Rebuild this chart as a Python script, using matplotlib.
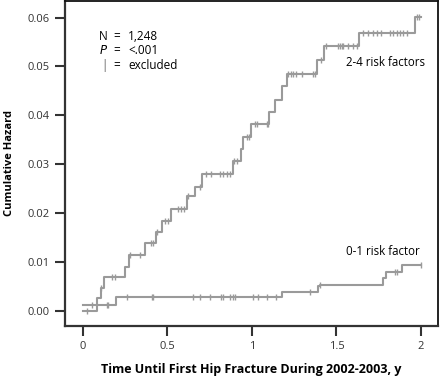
import numpy as np
import matplotlib
matplotlib.use('Agg')
import matplotlib.pyplot as plt

plt.rcParams['font.family'] = ['Open Sans', 'DejaVu Sans']

# 2-4 risk factors: step times and cumulative hazard after each step
t_hi = [0.0, 0.085, 0.105, 0.124, 0.249, 0.274, 0.369, 0.432, 0.465, 0.519,
        0.617, 0.663, 0.706, 0.886, 0.933, 0.945, 0.992, 1.103, 1.136, 1.175,
        1.205, 1.382, 1.425, 1.633, 1.966, 2.0]
h_hi = [0.0, 0.0026, 0.0046, 0.0068, 0.0089, 0.0113, 0.0138, 0.0161, 0.0183,
        0.0207, 0.0234, 0.0254, 0.0279, 0.0307, 0.0331, 0.0356, 0.0383,
        0.0406, 0.0431, 0.0460, 0.0485, 0.0513, 0.0542, 0.0569, 0.0601,
        0.0601]
cens_hi = [0.025, 0.105, 0.17, 0.19, 0.28, 0.34, 0.40, 0.415, 0.44, 0.485,
           0.505, 0.56, 0.58, 0.60, 0.62, 0.69, 0.73, 0.76, 0.81, 0.83, 0.85,
           0.87, 0.893, 0.91, 0.97, 0.985, 1.02, 1.03, 1.087, 1.097, 1.215,
           1.23, 1.245, 1.26, 1.294, 1.363, 1.373, 1.406, 1.44, 1.51, 1.52,
           1.53, 1.54, 1.57, 1.60, 1.623, 1.655, 1.688, 1.714, 1.741, 1.763,
           1.817, 1.837, 1.856, 1.876, 1.895, 1.915, 1.975, 1.99]

# 0-1 risk factor
t_lo = [0.0, 0.195, 1.18, 1.392, 1.40, 1.777, 1.79, 1.886, 2.0]
h_lo = [0.0012, 0.0027, 0.0038, 0.0050, 0.0053, 0.0066, 0.0080, 0.0093,
        0.0093]
cens_lo = [0.055, 0.14, 0.15, 0.26, 0.41, 0.415, 0.65, 0.69, 0.75, 0.815,
           0.83, 0.87, 0.89, 0.90, 1.004, 1.037, 1.087, 1.142, 1.343, 1.40,
           1.846, 1.856, 1.998]

gray = '#9a9a9a'

fig = plt.figure(figsize=(4.4, 3.79), dpi=100)
ax = fig.add_axes([65 / 440, 1 - 326 / 379, 373 / 440, 325 / 379])

for t, h, c in [(t_hi, h_hi, cens_hi), (t_lo, h_lo, cens_lo)]:
    t = np.array(t)
    h = np.array(h)
    ax.step(t, h, where='post', color=gray, lw=1.5)
    c = np.array(c)
    idx = np.searchsorted(t, c, side='right') - 1
    ax.plot(c, h[idx], ls='none', marker='|', ms=4, mew=1.0, color=gray)

ax.set_xlim(-0.1065, 2.1006)
ax.set_ylim(-0.00316, 0.0634)
ax.set_xticks([0, 0.5, 1, 1.5, 2])
ax.set_xticklabels(['0', '0.5', '1', '1.5', '2'])
ax.set_yticks([0, 0.01, 0.02, 0.03, 0.04, 0.05, 0.06])
ax.set_yticklabels(['0.00', '0.01', '0.02', '0.03', '0.04', '0.05', '0.06'])
ax.tick_params(direction='out', length=7, width=1.5, color='#333333',
               labelsize=8, labelcolor='#333333', pad=4)

for s in ['left', 'bottom']:
    ax.spines[s].set_linewidth(1.6)
    ax.spines[s].set_color('#333333')
for s in ['top', 'right']:
    ax.spines[s].set_linewidth(1.3)
    ax.spines[s].set_color('#111111')

ax.set_ylabel('Cumulative Hazard', fontweight='bold', fontsize=8, labelpad=9)
ax.set_xlabel('Time Until First Hip Fracture During 2002-2003, y',
              fontweight='bold', fontsize=9, labelpad=8)

fs = 8.5
ax.text(0.148, 0.0562, 'N', ha='right', va='center', fontsize=fs)
ax.text(0.148, 0.0532, '$P$', ha='right', va='center', fontsize=fs)
ax.text(0.148, 0.0501, '|', ha='right', va='center', fontsize=fs,
        color=gray, fontweight='bold')
for y in [0.0562, 0.0532, 0.0501]:
    ax.text(0.201, y, '=', ha='center', va='center', fontsize=fs)
ax.text(0.266, 0.0562, '1,248', ha='left', va='center', fontsize=fs)
ax.text(0.266, 0.0532, '<.001', ha='left', va='center', fontsize=fs)
ax.text(0.266, 0.0501, 'excluded', ha='left', va='center', fontsize=fs)

ax.text(1.79, 0.0508, '2-4 risk factors', ha='center', va='center',
        fontsize=8.3)
ax.text(1.775, 0.0120, '0-1 risk factor', ha='center', va='center',
        fontsize=8.3)

fig.savefig('out.png', dpi=100)
